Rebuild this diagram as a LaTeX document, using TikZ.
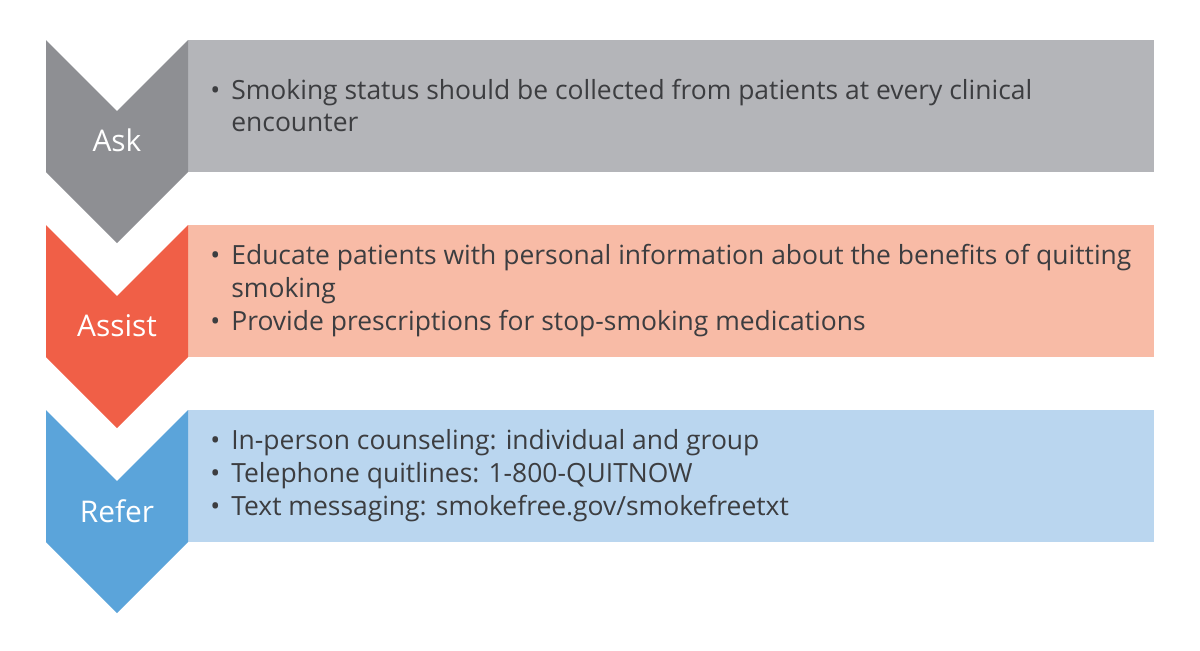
\documentclass[tikz,border=0pt]{standalone}
\usepackage{fontspec}
\setmainfont{Open Sans}
\usepackage{xcolor}
\definecolor{askdark}{HTML}{8E8F93}
\definecolor{asklight}{HTML}{B4B5B9}
\definecolor{assistdark}{HTML}{F05F47}
\definecolor{assistlight}{HTML}{F8BBA6}
\definecolor{referdark}{HTML}{5BA4DA}
\definecolor{referlight}{HTML}{BAD6EF}
\definecolor{bodytext}{HTML}{3C3D40}
\newcommand{\bul}{\makebox[0.42cm][l]{\textbullet}}
\newcommand{\nobul}{\hspace*{0.42cm}}

\begin{document}
\begin{tikzpicture}[x=0.02cm,y=-0.02cm,line join=miter,
  steplabel/.style={text=white,inner sep=0pt,font=\fontsize{17}{20}\selectfont},
  bullets/.style={anchor=west,text=bodytext,align=left,inner sep=0pt,font=\fontsize{15.05}{18.7}\selectfont}]
\useasboundingbox (0,0) rectangle (1200,650);
% Ask
\fill [asklight] (188,40) rectangle (1154,172);
\fill [askdark] (46,40) -- (117,111) -- (188,40) -- (188,172) -- (117,243) -- (46,172) -- cycle;
\node [steplabel] (ask) at (117,140) {Ask};
\node [bullets] (asktext) at (210,105.5) {\bul Smoking status should be collected from patients at every clinical\\
\nobul encounter};
% Assist
\fill [assistlight] (188,225) rectangle (1154,357);
\fill [assistdark] (46,225) -- (117,296) -- (188,225) -- (188,357) -- (117,428) -- (46,357) -- cycle;
\node [steplabel] (assist) at (117,326) {Assist};
\node [bullets] (assisttext) at (210,290.5) {\bul Educate patients with personal information about the benefits of quitting\\
\nobul smoking\\
\bul Provide prescriptions for stop-smoking medications};
% Refer
\fill [referlight] (188,410) rectangle (1154,542);
\fill [referdark] (46,410) -- (117,481) -- (188,410) -- (188,542) -- (117,613) -- (46,542) -- cycle;
\node [steplabel] (refer) at (117,511) {Refer};
\node [bullets] (refertext) at (210,475.5) {\bul In-person counseling: individual and group\\
\bul Telephone quitlines: 1-800-QUITNOW\\
\bul Text messaging: smokefree.gov/smokefreetxt};
\end{tikzpicture}
\end{document}
